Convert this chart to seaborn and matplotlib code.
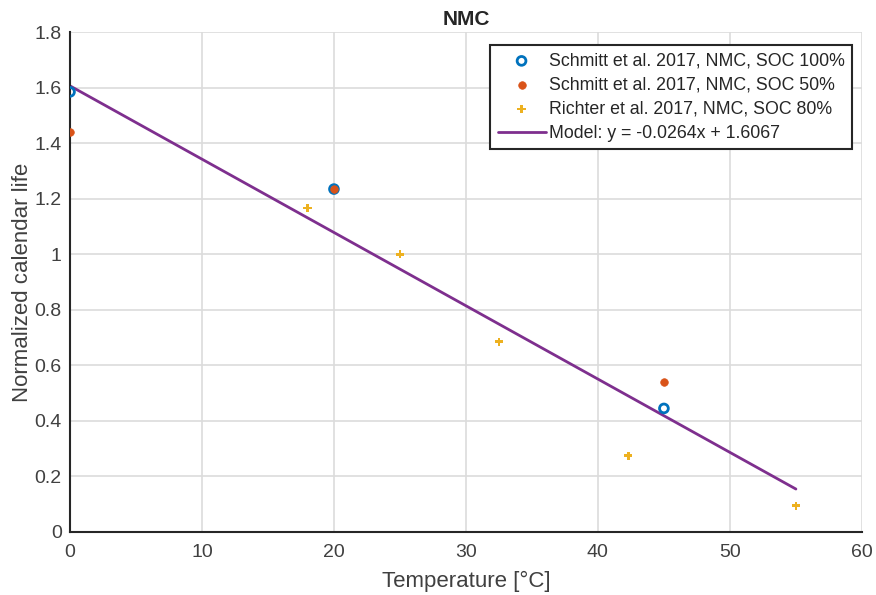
import numpy as np
import pandas as pd
import matplotlib
matplotlib.use("Agg")
import matplotlib.pyplot as plt
import seaborn as sns

# Data
schmitt100_T = [0, 20, 45]
schmitt100_L = [1.585, 1.235, 0.445]
schmitt50_T = [0, 20, 45]
schmitt50_L = [1.44, 1.235, 0.54]
richter_T = [18, 25, 32.5, 42.3, 55]
richter_L = [1.167, 1.0, 0.685, 0.275, 0.095]
model_slope = -0.0264
model_intercept = 1.6067
model_T = [0, 55]

x_ticks = [0, 10, 20, 30, 40, 50, 60]
y_ticks = [0, 0.2, 0.4, 0.6, 0.8, 1, 1.2, 1.4, 1.6, 1.8]
y_ticklabels = ["0", "0.2", "0.4", "0.6", "0.8", "1", "1.2", "1.4", "1.6", "1.8"]

lab100 = "Schmitt et al. 2017, NMC, SOC 100%"
lab50 = "Schmitt et al. 2017, NMC, SOC 50%"
labR = "Richter et al. 2017, NMC, SOC 80%"
labM = f"Model: y = {model_slope}x + {model_intercept}"

sns.set_style("white")
plt.rcParams['font.family'] = ['Liberation Sans', 'DejaVu Sans']

fig = plt.figure(figsize=(8.76, 5.95), dpi=100)
ax = fig.add_axes([0.0799, 0.1059, 0.904, 0.840])

df100 = pd.DataFrame({"T": schmitt100_T, "L": schmitt100_L})
df50 = pd.DataFrame({"T": schmitt50_T, "L": schmitt50_L})
dfR = pd.DataFrame({"T": richter_T, "L": richter_L})
dfM = pd.DataFrame({"T": model_T, "L": [model_slope * t + model_intercept for t in model_T]})

sns.scatterplot(data=df100, x="T", y="L", ax=ax, marker="o", s=40,
                facecolor="none", edgecolor="#0072BD", linewidth=2, label=lab100, zorder=4)
sns.scatterplot(data=df50, x="T", y="L", ax=ax, marker="o", s=30,
                color="#D95319", edgecolor="#D95319", linewidth=0.5, label=lab50, zorder=5)
sns.scatterplot(data=dfR, x="T", y="L", ax=ax, marker="P", s=35,
                color="#EDB120", edgecolor="none", label=labR, zorder=3)
sns.lineplot(data=dfM, x="T", y="L", ax=ax, color="#7E2F8E", linewidth=2, label=labM, zorder=2)

ax.set_xlim(0, 60)
ax.set_ylim(0, 1.8)
ax.set_xticks(x_ticks)
ax.set_yticks(y_ticks)
ax.set_yticklabels(y_ticklabels)
ax.grid(True, color="#dcdcdc", linewidth=1.2)
ax.set_axisbelow(True)
for s in ["top", "right"]:
    ax.spines[s].set_visible(False)
for s in ["left", "bottom"]:
    ax.spines[s].set_color("#262626")
    ax.spines[s].set_linewidth(1.5)
ax.tick_params(axis="both", which="both", direction="in", length=5, width=1.2,
               labelsize=14, colors="#262626")
ax.tick_params(axis="x", pad=9)
ax.tick_params(axis="y", pad=6)
ax.tick_params(axis="both", labelcolor="#404040")
ax.set_xlabel("Temperature [°C]", fontsize=16, color="#404040", labelpad=7)
ax.set_ylabel("Normalized calendar life", fontsize=16, color="#404040", labelpad=1)
ax.set_title("NMC", fontsize=15, fontweight="bold", pad=5)

leg = ax.legend(loc="upper right", bbox_to_anchor=(0.9876, 0.9735), fontsize=12.8,
                frameon=True, fancybox=False, edgecolor="#262626", framealpha=1,
                handlelength=2.7, handletextpad=0.2, borderpad=0.4, labelspacing=0.4,
                borderaxespad=0)
leg.get_frame().set_linewidth(1.5)

fig.savefig("out.png", dpi=100)
